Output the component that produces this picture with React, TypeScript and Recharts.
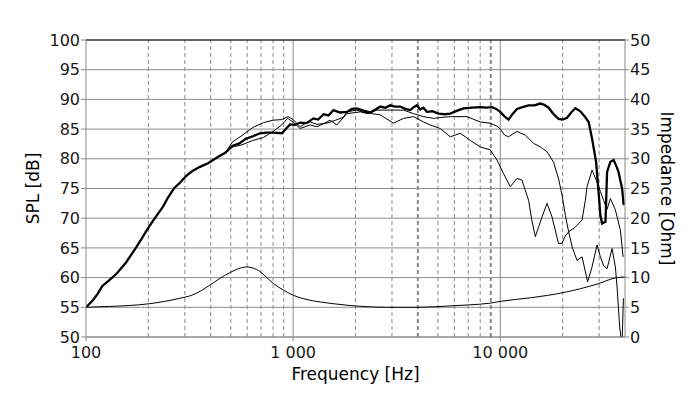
import React from "react";
import {
  LineChart,
  Line,
  XAxis,
  YAxis,
  CartesianGrid,
  ReferenceLine,
} from "recharts";

// on-axis SPL (thick)
const onAxisHz = [
  100, 104, 108, 114, 120, 130, 140, 155, 174, 186, 199, 215, 235, 250, 267, 285,
  304, 325, 353, 390, 433, 470, 511, 550, 593, 640, 693, 741, 800, 882, 930, 967,
  1020, 1081, 1160, 1253, 1320, 1401, 1480, 1566, 1680, 1819, 1920, 2031, 2180,
  2355, 2500, 2633, 2780, 2942, 3100, 3288, 3480, 3675, 3820, 3960, 4107, 4250,
  4425, 4700, 5035, 5400, 5735, 6200, 6648, 7300, 8004, 8600, 9119, 9550, 10000,
  10450, 10966, 11500, 12041, 12800, 13700, 14600, 15607, 16300, 17118, 18000,
  19118, 20000, 21001, 22000, 23033, 24352, 25739, 26710, 27733, 29000, 29900,
  30419, 31000, 32200, 32775, 34000, 35270, 36500, 37200, 38720, 39420,
];
const onAxisDb = [
  55.0, 55.6, 56.2, 57.3, 58.6, 59.6, 60.6, 62.4, 65.0, 66.6, 68.3, 70.0, 71.9, 73.6, 75.1, 76.0,
  77.1, 77.9, 78.6, 79.3, 80.3, 81.0, 82.2, 82.6, 83.4, 83.8, 84.3, 84.4, 84.4, 84.3, 85.2, 85.8,
  85.7, 86.1, 86.0, 86.8, 86.6, 87.5, 87.3, 88.2, 87.8, 87.9, 88.4, 88.5, 88.1,
  87.8, 88.3, 88.8, 88.6, 89.0, 88.8, 88.8, 88.4, 88.2, 88.7, 89.0, 88.3, 88.6,
  87.9, 88.0, 87.6, 87.5, 87.6, 88.1, 88.5, 88.6, 88.7, 88.6, 88.7, 88.4, 87.9,
  87.2, 86.6, 87.6, 88.4, 88.7, 89.0, 89.0, 89.3, 89.1, 88.6, 87.6,
  86.7, 86.6, 86.9, 87.8, 88.5, 88.0, 87.0, 86.2, 83.4, 79.5, 73.9,
  70.5, 69.1, 69.4, 77.8, 79.5, 79.8, 78.6, 77.8, 75.0, 72.2,
];

// off-axis SPL, first thin curve
const offAxisAHz = [
  470, 511, 560, 641, 720, 801, 880, 946, 1000, 1081, 1140, 1208, 1302, 1455, 1600,
  1750, 1817, 2031, 2270, 2537, 2942, 3412, 3813, 4262, 4762, 5300, 5735, 6903,
  8004, 8946, 9641, 10000, 10500, 10966, 11500, 12041, 12600, 13208, 14486, 15607,
  16192, 16815, 18096, 19118, 19869, 20606, 21380, 22300, 23471, 24816, 26406,
  27733, 29317, 30419, 31556, 32775, 34650, 35940, 36630, 37700, 38200, 38800, 39300,
];
const offAxisADb = [
  81.0, 82.9, 83.8, 85.3, 86.1, 86.5, 86.6, 87.1, 86.6, 85.4, 85.9, 86.2, 85.8, 86.0, 86.5,
  87.0, 87.9, 88.2, 87.6, 88.2, 88.2, 88.2, 87.6, 87.1, 86.8, 87.0, 87.1, 87.1,
  86.2, 86.0, 85.5, 85.0, 84.0, 83.7, 84.2, 84.6, 84.3, 84.0, 82.6, 82.0,
  81.6, 81.2, 79.4, 76.6, 73.9, 70.5, 67.7, 65.0, 62.9, 63.5, 59.3,
  61.8, 65.5, 63.5, 62.0, 61.5, 64.9, 61.8, 58.4, 51.7, 50.0, 50.0, 56.5,
];

// off-axis SPL, second thin curve
const offAxisBHz = [
  470, 511, 560, 641, 720, 801, 880, 940, 1000, 1081, 1208, 1302, 1400, 1509, 1626,
  1817, 2108, 2400, 2633, 3051, 3412, 3813, 4262, 4590, 5130, 5735, 6410, 7164,
  8004, 8946, 9641, 10373, 11175, 12041, 12728, 13700, 14228, 14761, 15300, 15904,
  16815, 17777, 19118, 19869, 20600, 21380, 23033, 24816, 25739, 26232, 27733,
  29317, 30419, 31556, 32775, 34000, 35940, 38000, 39160,
];
const offAxisBDb = [
  81.0, 82.0, 82.3, 83.1, 83.6, 84.6, 85.7, 86.8, 86.2, 85.1, 85.7, 85.4, 85.9, 86.5, 85.7,
  87.6, 87.9, 87.6, 87.4, 86.0, 86.8, 87.1, 86.2, 85.7, 85.1, 83.7, 84.3, 83.1,
  82.0, 81.5, 79.8, 77.5, 75.3, 76.7, 76.4, 73.0, 69.5, 66.9, 68.5, 70.2,
  72.5, 70.2, 65.7, 65.8, 67.0, 67.7, 68.5, 69.7, 73.0, 75.3, 78.1,
  76.1, 74.5, 73.0, 71.5, 73.3, 71.4, 68.0, 63.5,
];

// impedance (right axis)
const impedanceHz = [
  100, 130, 162, 202, 240, 282, 328, 360, 395, 440, 493, 545, 597, 640, 693, 741,
  804, 897, 1006, 1166, 1350, 1566, 1880, 2300, 2800, 4000, 5500, 7000, 8950,
  10000, 14000, 20300, 29300, 36600, 40000,
];
const impedanceOhm = [
  5.0, 5.15, 5.3, 5.6, 6.0, 6.5, 7.1, 7.8, 8.7, 9.8, 10.8, 11.5, 11.8, 11.6, 11.0, 10.1,
  9.0, 7.9, 7.0, 6.3, 5.9, 5.6, 5.3, 5.1, 5.0, 5.0, 5.2, 5.4, 5.7,
  6.0, 6.6, 7.5, 8.9, 10.0, 10.1,
];

const freqTicks = [100, 1000, 10000];
const minorFreqs = [
  200, 300, 400, 500, 600, 700, 800, 900,
  2000, 3000, 4000, 5000, 6000, 7000, 8000, 9000,
  20000, 30000,
];
const splTicks = [50, 55, 60, 65, 70, 75, 80, 85, 90, 95, 100];
const ohmTicks = [0, 5, 10, 15, 20, 25, 30, 35, 40, 45, 50];

const zip = (hz: number[], vals: number[]) => hz.map((f, i) => ({ f, v: vals[i] }));

const onAxis = zip(onAxisHz, onAxisDb);
const offAxisA = zip(offAxisAHz, offAxisADb);
const offAxisB = zip(offAxisBHz, offAxisBDb);
const impedance = zip(impedanceHz, impedanceOhm);

const FONT = "'DejaVu Sans', Verdana, sans-serif";
const GRID = "#8a8a8a";
const tickStyle = { fill: "#1a1a1a", fontSize: 16, fontFamily: FONT };

const fmtHz = (v: number) => String(v).replace(/\B(?=(\d{3})+(?!\d))/g, " ");

export default function App() {
  return (
    <div style={{ position: "absolute", left: 0, top: 0, width: 700, height: 399, background: "#fff", fontFamily: FONT }}>
      <LineChart width={700} height={399} margin={{ top: 40, right: 0, bottom: 0, left: 0 }}>
        <CartesianGrid yAxisId="left" vertical={false} stroke={GRID} strokeWidth={1} />
        <XAxis
          dataKey="f"
          type="number"
          scale="log"
          domain={[100, 40000]}
          allowDataOverflow
          ticks={freqTicks}
          tickFormatter={fmtHz}
          height={62}
          stroke={GRID}
          tickSize={4}
          tickMargin={6}
          tick={tickStyle}
          label={{
            content: (p: any) => {
              const vb = p.viewBox || { x: 86, y: 337, width: 539 };
              return (
                <text x={vb.x + vb.width / 2} y={vb.y + 43} textAnchor="middle" fontSize={17} fontFamily={FONT} fill="#000">
                  Frequency [Hz]
                </text>
              );
            },
          }}
        />
        <YAxis
          yAxisId="left"
          domain={[50, 100]}
          ticks={splTicks}
          allowDataOverflow
          width={86}
          stroke={GRID}
          tickSize={5}
          tickMargin={1}
          tick={tickStyle}
          label={{
            content: (p: any) => {
              const vb = p.viewBox || { x: 0, y: 40, height: 297 };
              const cx = vb.x + 33;
              const cy = vb.y + vb.height / 2;
              return (
                <text x={cx} y={cy} transform={`rotate(-90 ${cx} ${cy})`} textAnchor="middle" dominantBaseline="central" fontSize={17} fontFamily={FONT} fill="#000">
                  SPL [dB]
                </text>
              );
            },
          }}
        />
        <YAxis
          yAxisId="right"
          orientation="right"
          domain={[0, 50]}
          ticks={ohmTicks}
          allowDataOverflow
          width={75}
          stroke={GRID}
          tickSize={4}
          tickMargin={1}
          tick={tickStyle}
          label={{
            content: (p: any) => {
              const vb = p.viewBox || { x: 625, y: 40, height: 297 };
              const cx = vb.x + 42;
              const cy = vb.y + vb.height / 2;
              return (
                <text x={cx} y={cy} transform={`rotate(90 ${cx} ${cy})`} textAnchor="middle" dominantBaseline="central" fontSize={17} fontFamily={FONT} fill="#000">
                  Impedance [Ohm]
                </text>
              );
            },
          }}
        />

        {minorFreqs.map((f) => (
          <ReferenceLine
            key={f}
            yAxisId="left"
            x={f}
            stroke={GRID}
            strokeWidth={f === 4000 || f === 9000 ? 2 : 1}
            strokeDasharray="4 3"
          />
        ))}
        <ReferenceLine yAxisId="left" x={1000} stroke={GRID} />
        <ReferenceLine yAxisId="left" x={10000} stroke={GRID} />
        <ReferenceLine yAxisId="left" y={100} stroke="#000" />

        <Line
          yAxisId="right"
          data={impedance}
          dataKey="v"
          type="monotone"
          stroke="#000"
          strokeWidth={1}
          dot={false}
          isAnimationActive={false}
        />
        <Line
          yAxisId="left"
          data={offAxisB}
          dataKey="v"
          type="linear"
          stroke="#000"
          strokeWidth={1}
          dot={false}
          isAnimationActive={false}
        />
        <Line
          yAxisId="left"
          data={offAxisA}
          dataKey="v"
          type="linear"
          stroke="#000"
          strokeWidth={1}
          dot={false}
          isAnimationActive={false}
        />
        <Line
          yAxisId="left"
          data={onAxis}
          dataKey="v"
          type="linear"
          stroke="#000"
          strokeWidth={2.3}
          dot={false}
          isAnimationActive={false}
        />
      </LineChart>
    </div>
  );
}
